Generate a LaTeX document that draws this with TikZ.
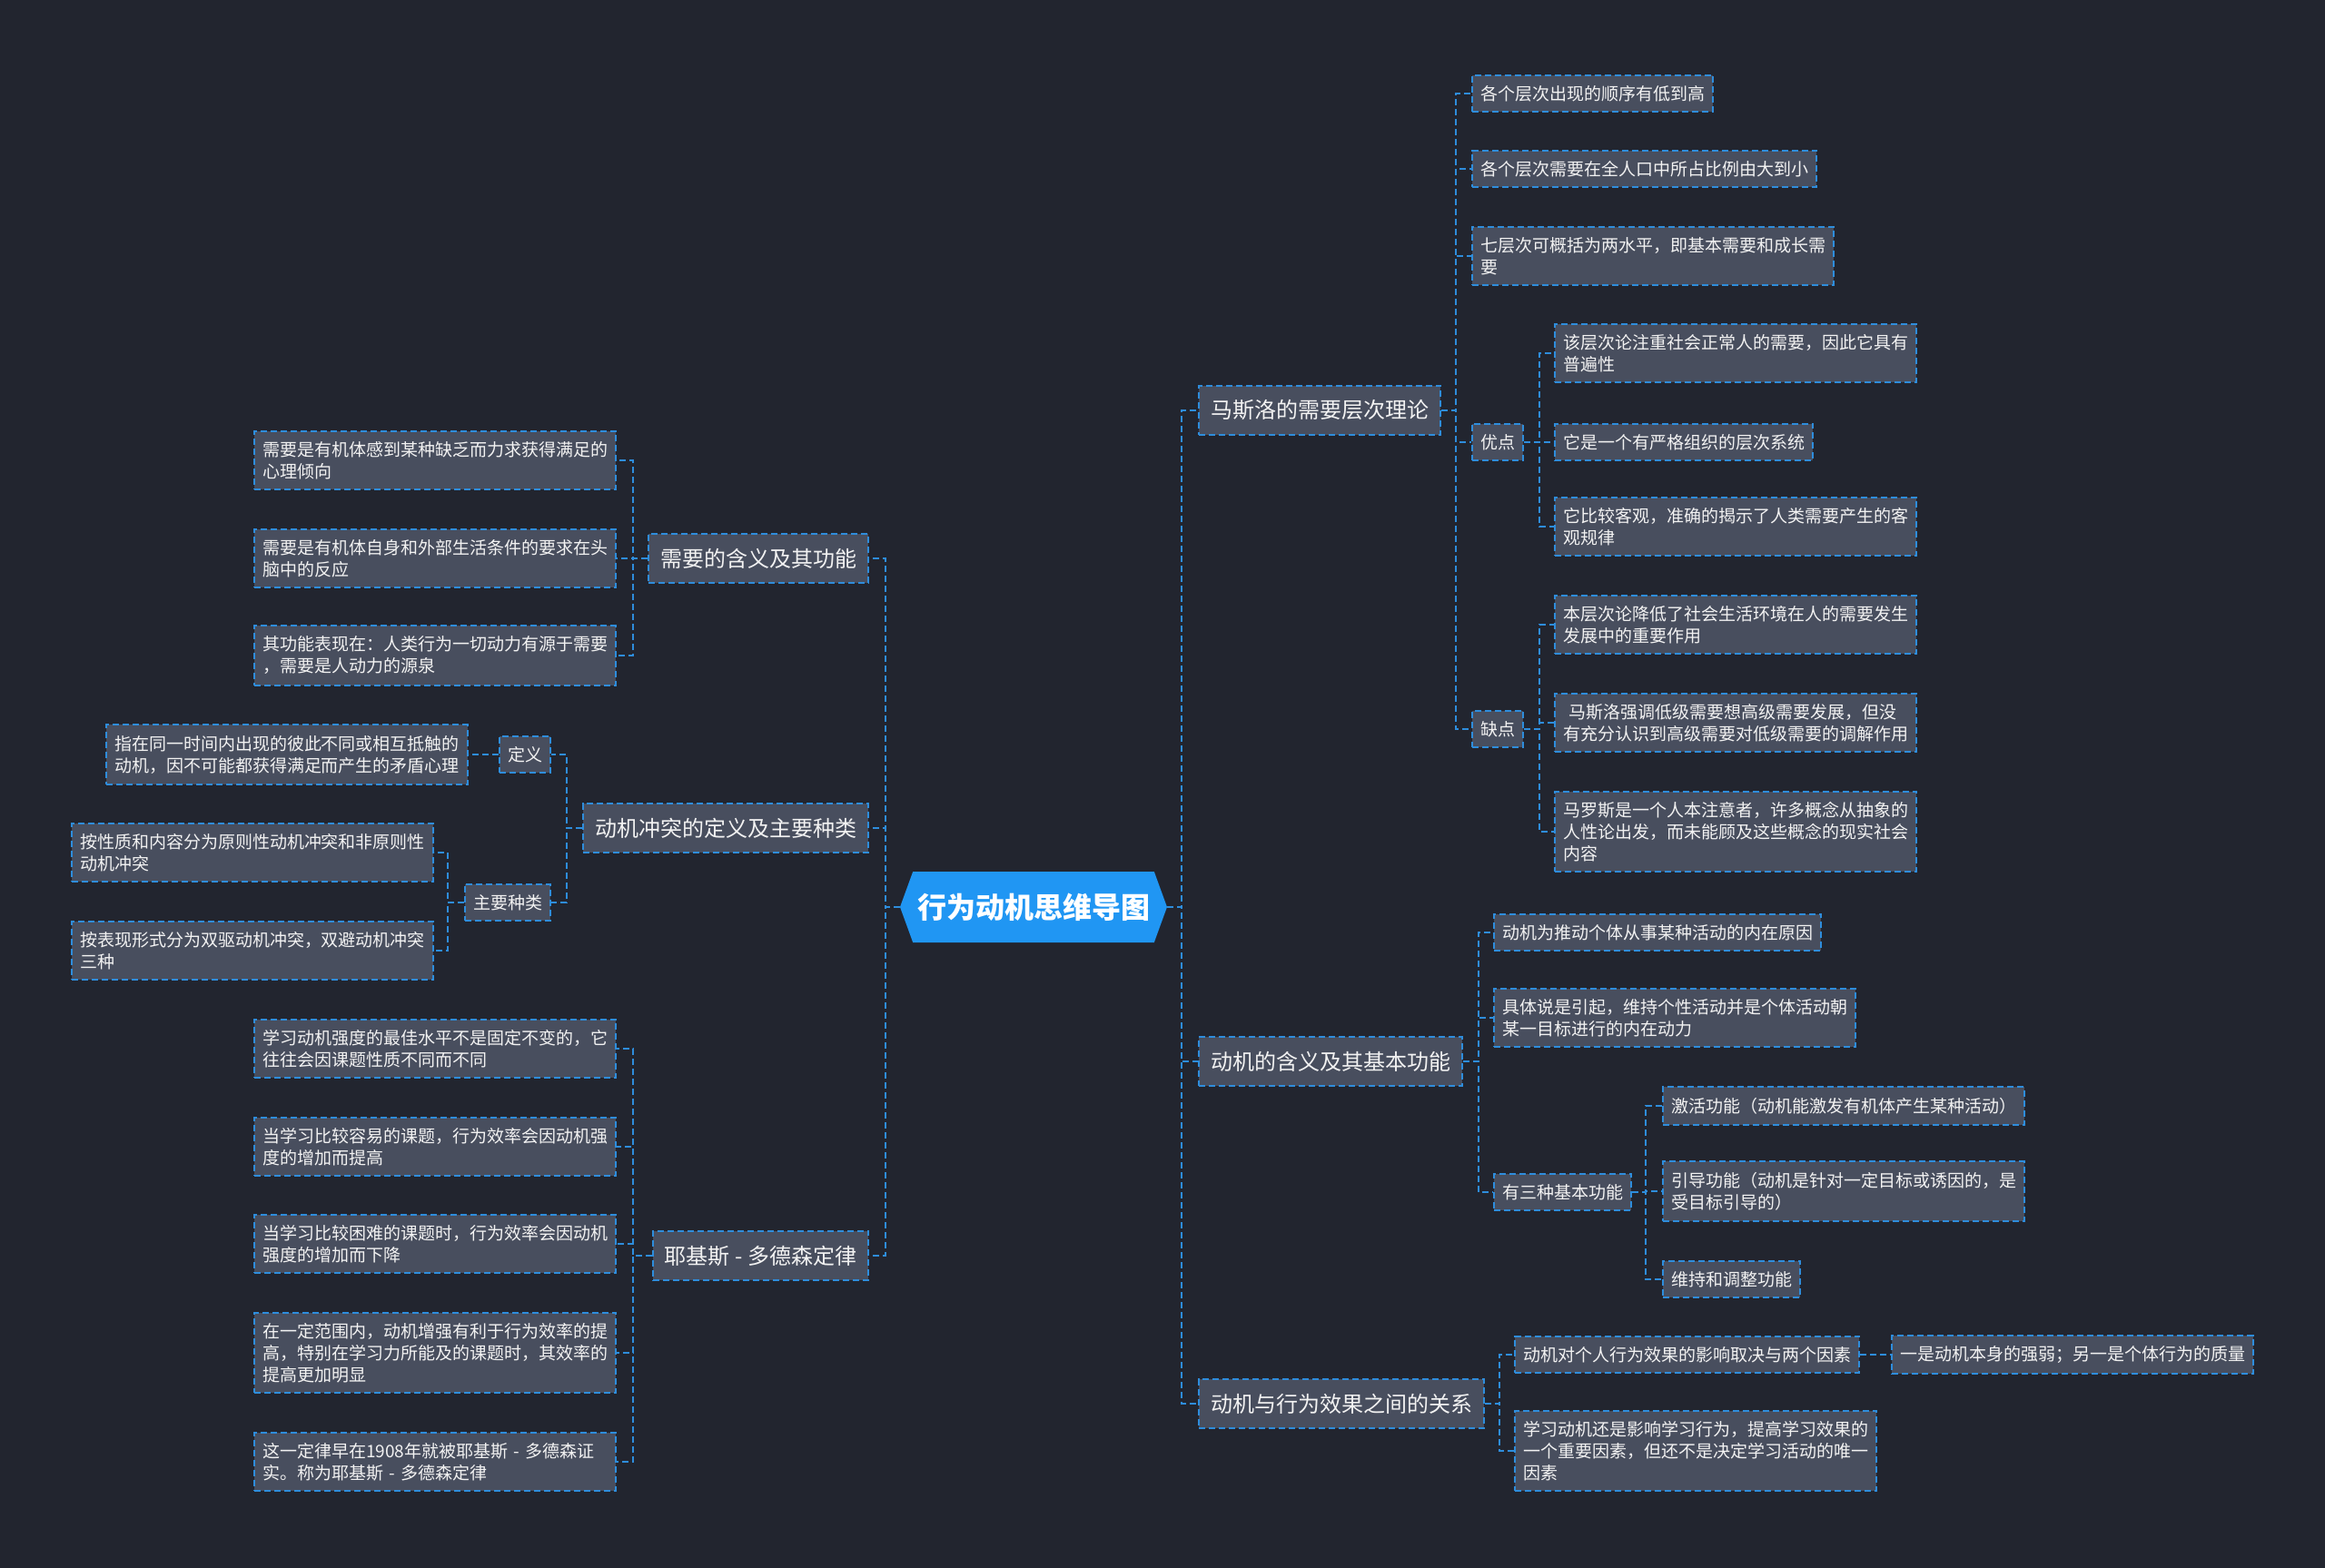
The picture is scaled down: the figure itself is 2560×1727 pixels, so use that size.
\documentclass[tikz,border=0pt]{standalone}
\usepackage{fontspec}
\setmainfont{Noto Sans CJK SC}
\usetikzlibrary{shapes.symbols}
\definecolor{bg}{RGB}{34,37,47}
\definecolor{boxfill}{RGB}{72,78,94}
\definecolor{lineblue}{RGB}{46,141,220}
\definecolor{rootblue}{RGB}{32,150,243}
\definecolor{txt}{RGB}{242,242,242}
\begin{document}
\begin{tikzpicture}[x=0.5pt,y=-0.5pt,
  box/.style={draw=lineblue, fill=boxfill, line width=1pt, dash pattern=on 3.5pt off 2pt, text=txt, inner xsep=4.5pt, inner ysep=5.75pt, font=\fontsize{9.5}{12}\selectfont},
  leafwide/.style={box, text width=190pt, align=left},
  topic/.style={box, inner xsep=6.5pt, inner ysep=8pt, font=\fontsize{12}{14}\selectfont},
  conn/.style={draw=lineblue, line width=1pt, dash pattern=on 3.5pt off 2pt},
  rootnode/.style={signal, signal to=east and west, signal pointer angle=140, fill=rootblue, text=white, font=\fontsize{16}{18}\selectfont\bfseries, minimum width=147pt, minimum height=39pt, inner sep=0pt}]

\fill[bg] (0,0) rectangle (2560,1727);
\useasboundingbox (0,0) rectangle (2560,1727);

% root
\node[rootnode] (root) at (1138,999) {行为动机思维导图};

% right topics
\node[topic, anchor=west] (m1) at (1319,452) {马斯洛的需要层次理论};
\node[topic, anchor=west] (m2) at (1319,1169) {动机的含义及其基本功能};
\node[topic, anchor=west] (m3) at (1319,1546) {动机与行为效果之间的关系};

% left topics
\node[topic, anchor=east] (l1) at (957,615) {需要的含义及其功能};
\node[topic, anchor=east] (l2) at (957,912) {动机冲突的定义及主要种类};
\node[topic, anchor=east] (l3) at (957,1383) {耶基斯 - 多德森定律};

% m1 children
\node[box, anchor=west] (r11) at (1620,103) {各个层次出现的顺序有低到高};
\node[box, anchor=west] (r12) at (1620,186) {各个层次需要在全人口中所占比例由大到小};
\node[leafwide, anchor=west] (r13) at (1620,282) {七层次可概括为两水平，即基本需要和成长需\\要};
\node[box, anchor=west] (good) at (1620,487) {优点};
\node[box, anchor=west] (bad) at (1620,803) {缺点};

\node[leafwide, anchor=west] (g1) at (1711,389) {该层次论注重社会正常人的需要，因此它具有\\普遍性};
\node[box, anchor=west] (g2) at (1711,487) {它是一个有严格组织的层次系统};
\node[leafwide, anchor=west] (g3) at (1711,580) {它比较客观，准确的揭示了人类需要产生的客\\观规律};

\node[leafwide, anchor=west] (d1) at (1711,688) {本层次论降低了社会生活环境在人的需要发生\\发展中的重要作用};
\node[leafwide, anchor=west] (d2) at (1711,796) {~马斯洛强调低级需要想高级需要发展，但没\\有充分认识到高级需要对低级需要的调解作用};
\node[leafwide, anchor=west] (d3) at (1711,916) {马罗斯是一个人本注意者，许多概念从抽象的\\人性论出发，而未能顾及这些概念的现实社会\\内容};

% m2 children
\node[box, anchor=west] (s1) at (1644,1027) {动机为推动个体从事某种活动的内在原因};
\node[leafwide, anchor=west] (s2) at (1644,1121) {具体说是引起，维持个性活动并是个体活动朝\\某一目标进行的内在动力};
\node[box, anchor=west] (s3) at (1644,1313) {有三种基本功能};

\node[box, anchor=west] (f1) at (1830,1218) {激活功能（动机能激发有机体产生某种活动）};
\node[leafwide, anchor=west] (f2) at (1830,1312) {引导功能（动机是针对一定目标或诱因的，是\\受目标引导的）};
\node[box, anchor=west] (f3) at (1830,1409) {维持和调整功能};

% m3 children
\node[box, anchor=west] (e1) at (1667,1492) {动机对个人行为效果的影响取决与两个因素};
\node[leafwide, anchor=west] (e2) at (1667,1598) {学习动机还是影响学习行为，提高学习效果的\\一个重要因素，但还不是决定学习活动的唯一\\因素};
\node[box, anchor=west] (e11) at (2082,1492) {一是动机本身的强弱；另一是个体行为的质量};

% l1 children
\node[leafwide, anchor=east] (n1) at (679,507) {需要是有机体感到某种缺乏而力求获得满足的\\心理倾向};
\node[leafwide, anchor=east] (n2) at (679,615) {需要是有机体自身和外部生活条件的要求在头\\脑中的反应};
\node[leafwide, anchor=east] (n3) at (679,722) {其功能表现在：人类行为一切动力有源于需要\\，需要是人动力的源泉};

% l2 children
\node[box, anchor=east] (def) at (607,831) {定义};
\node[box, anchor=east] (kind) at (607,994) {主要种类};
\node[leafwide, anchor=east] (defc) at (516,831) {指在同一时间内出现的彼此不同或相互抵触的\\动机，因不可能都获得满足而产生的矛盾心理};
\node[leafwide, anchor=east] (k1) at (478,939) {按性质和内容分为原则性动机冲突和非原则性\\动机冲突};
\node[leafwide, anchor=east] (k2) at (478,1047) {按表现形式分为双驱动机冲突，双避动机冲突\\三种};

% l3 children
\node[leafwide, anchor=east] (y1) at (679,1155) {学习动机强度的最佳水平不是固定不变的，它\\往往会因课题性质不同而不同};
\node[leafwide, anchor=east] (y2) at (679,1263) {当学习比较容易的课题，行为效率会因动机强\\度的增加而提高};
\node[leafwide, anchor=east] (y3) at (679,1370) {当学习比较困难的课题时，行为效率会因动机\\强度的增加而下降};
\node[leafwide, anchor=east] (y4) at (679,1490) {在一定范围内，动机增强有利于行为效率的提\\高，特别在学习力所能及的课题时，其效率的\\提高更加明显};
\node[leafwide, anchor=east] (y5) at (679,1610) {这一定律早在1908年就被耶基斯 - 多德森证\\实。称为耶基斯 - 多德森定律};

% bus coordinates
\coordinate (bR) at (1301,0);
\coordinate (bL) at (975,0);
\coordinate (bm1) at (1603,0);
\coordinate (bgood) at (1695,0);
\coordinate (bbad) at (1695,0);
\coordinate (bm2) at (1628,0);
\coordinate (bs3) at (1812,0);
\coordinate (bm3) at (1651,0);
\coordinate (bl1) at (697,0);
\coordinate (bl2) at (624,0);
\coordinate (bkind) at (493,0);
\coordinate (bl3) at (697,0);

% connectors: root
\foreach \c in {m1,m2,m3} \draw[conn] (root.east) -- (root.east -| bR) |- (\c.west);
\foreach \c in {l1,l2,l3} \draw[conn] (root.west) -- (root.west -| bL) |- (\c.east);

% m1
\foreach \c in {r11,r12,r13,good,bad} \draw[conn] (m1.east) -- (m1.east -| bm1) |- (\c.west);
\foreach \c in {g1,g2,g3} \draw[conn] (good.east) -- (good.east -| bgood) |- (\c.west);
\foreach \c in {d1,d2,d3} \draw[conn] (bad.east) -- (bad.east -| bbad) |- (\c.west);
% m2
\foreach \c in {s1,s2,s3} \draw[conn] (m2.east) -- (m2.east -| bm2) |- (\c.west);
\foreach \c in {f1,f2,f3} \draw[conn] (s3.east) -- (s3.east -| bs3) |- (\c.west);
% m3
\foreach \c in {e1,e2} \draw[conn] (m3.east) -- (m3.east -| bm3) |- (\c.west);
\draw[conn] (e1.east) -- (e11.west);

% left
\foreach \c in {n1,n2,n3} \draw[conn] (l1.west) -- (l1.west -| bl1) |- (\c.east);
\foreach \c in {def,kind} \draw[conn] (l2.west) -- (l2.west -| bl2) |- (\c.east);
\draw[conn] (def.west) -- (defc.east);
\foreach \c in {k1,k2} \draw[conn] (kind.west) -- (kind.west -| bkind) |- (\c.east);
\foreach \c in {y1,y2,y3,y4,y5} \draw[conn] (l3.west) -- (l3.west -| bl3) |- (\c.east);

\end{tikzpicture}
\end{document}
